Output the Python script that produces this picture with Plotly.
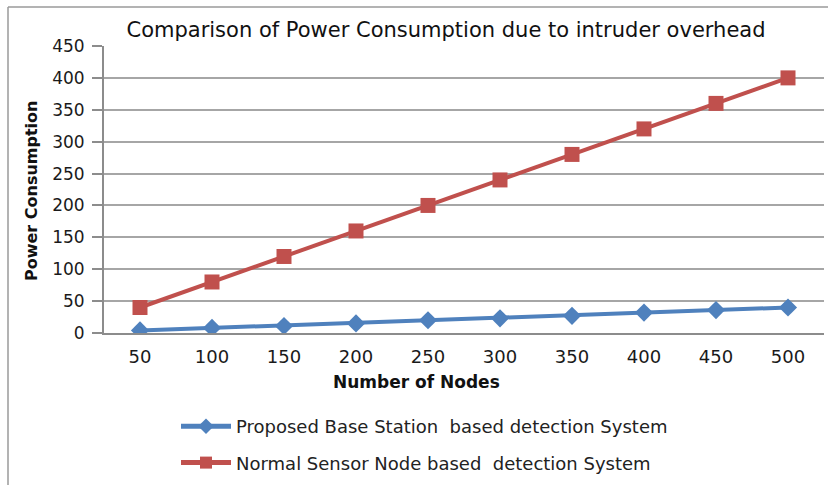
import plotly.graph_objects as go

nodes = ["50", "100", "150", "200", "250", "300", "350", "400", "450", "500"]
proposed = [4, 8, 11, 15, 20, 23, 27, 32, 36, 40]
normal = [40, 80, 120, 160, 200, 240, 280, 320, 360, 400]
y_ticks = [0, 50, 100, 150, 200, 250, 300, 350, 400, 450]

W, H = 828, 485
L, R, T, B = 104, 4, 46, 152
pw = W - L - R
ph = H - T - B

def px(x):
    return (x - L) / pw

def py(y):
    return (H - B - y) / ph

def cx(x):
    return x / W

def cy(y):
    return 1 - y / H

FONT = "DejaVu Sans"

fig = go.Figure()
fig.add_trace(go.Scatter(
    x=nodes, y=proposed, mode="lines+markers",
    name="Proposed Base Station  based detection System",
    line=dict(color="#4F81BD", width=4),
    marker=dict(symbol="diamond", size=14, color="#4F81BD"),
    legendgroup="a",
))
fig.add_trace(go.Scatter(
    x=nodes, y=normal, mode="lines+markers",
    name="Normal Sensor Node based  detection System",
    line=dict(color="#C0504D", width=4),
    marker=dict(symbol="square", size=15, color="#C0504D"),
    legendgroup="b",
))

fig.update_layout(
    width=W, height=H,
    margin=dict(l=L, r=R, t=T, b=B, autoexpand=False),
    paper_bgcolor="white", plot_bgcolor="white",
    font=dict(family=FONT, color="#222222"),
    showlegend=True,
    title=dict(
        text="Comparison of Power Consumption due to intruder overhead",
        x=cx(446), y=cy(30), xref="container", yref="container",
        xanchor="center", yanchor="middle",
        font=dict(size=21, color="#111111", family=FONT),
    ),
    legend=dict(
        x=cx(176), y=cy(408), xref="container", yref="container",
        xanchor="left", yanchor="top",
        orientation="v", font=dict(size=18, color="#222222"),
        tracegroupgap=10, itemwidth=50, itemsizing="constant",
        bgcolor="rgba(0,0,0,0)",
    ),
    xaxis=dict(
        type="category", range=[-0.5, 9.5], automargin=False,
        showgrid=False, showline=True, linecolor="#8c8c8c", linewidth=2,
        ticks="", tickfont=dict(size=18, color="#1a1a1a"),
        ticklabelstandoff=6,
        zeroline=False,
    ),
    yaxis=dict(
        range=[0, 450], tickvals=y_ticks, automargin=False,
        showgrid=True, gridcolor="#a6a6a6", gridwidth=1.5,
        showline=True, linecolor="#8c8c8c", linewidth=2,
        ticks="outside", ticklen=10, tickcolor="#8c8c8c", tickwidth=1.5,
        tickfont=dict(size=17, color="#1a1a1a"),
        ticklabelstandoff=4,
        zeroline=False,
    ),
    annotations=[
        dict(text="<b>Power Consumption</b>",
             x=px(31), y=py(191), xref="paper", yref="paper", textangle=-90,
             xanchor="center", yanchor="middle",
             showarrow=False, font=dict(size=16, color="#111111", family=FONT)),
        dict(text="<b>Number of Nodes</b>",
             x=px(416), y=py(382), xref="paper", yref="paper",
             xanchor="center", yanchor="middle",
             showarrow=False, font=dict(size=17, color="#111111", family=FONT)),
    ],
    shapes=[
        dict(type="line", xref="paper", yref="paper",
             x0=px(8), x1=px(840), y0=py(7), y1=py(7),
             line=dict(color="#9a9a9a", width=1.5)),
        dict(type="line", xref="paper", yref="paper",
             x0=px(8), x1=px(8), y0=py(7), y1=py(500),
             line=dict(color="#9a9a9a", width=1.5)),
    ],
)

fig.write_html(
    "out.html",
    config=dict(displayModeBar=False),
    post_script="document.body.style.margin='0';document.body.style.overflow='hidden';",
)
